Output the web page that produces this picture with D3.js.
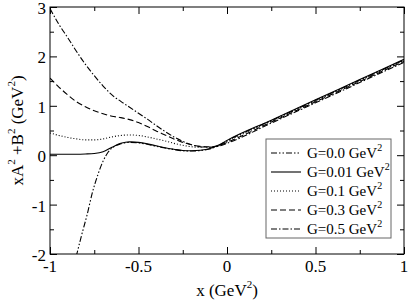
<!DOCTYPE html>
<html>
<head>
<meta charset="utf-8">
<script src="https://cdn.jsdelivr.net/npm/d3@7"></script>
<style>
  body { margin: 0; background: #fff; }
</style>
</head>
<body>
<div id="chart"></div>
<script>
// chart size
var width = 409, height = 303;
var margin = {left: 50, right: 5, top: 7, bottom: 49};
var serif = "'Liberation Serif', 'Times New Roman', Times, 'DejaVu Serif', serif";

// x grid shared by most of the curves
var xGrid = [-1, -0.95, -0.9, -0.85, -0.8, -0.75, -0.7, -0.65, -0.6, -0.55, -0.5, -0.45,
  -0.4, -0.35, -0.3, -0.25, -0.2, -0.15, -0.1, -0.05, 0, 0.25, 0.5, 0.75, 1];

// G = 0.01 GeV^2 (solid)
var g001 = [0.02, 0.02, 0.02, 0.02, 0.025, 0.035, 0.07, 0.16, 0.24, 0.27, 0.26, 0.23,
  0.19, 0.15, 0.12, 0.095, 0.09, 0.1, 0.13, 0.2, 0.30, 0.71, 1.12, 1.53, 1.94];
// G = 0.1 GeV^2 (dotted)
var g01 = [0.45, 0.40, 0.36, 0.33, 0.31, 0.31, 0.33, 0.37, 0.40, 0.41, 0.40, 0.37,
  0.33, 0.29, 0.24, 0.2, 0.17, 0.16, 0.16, 0.19, 0.28, 0.69, 1.10, 1.51, 1.92];
// G = 0.3 GeV^2 (dashed)
var g03 = [1.56, 1.38, 1.22, 1.08, 0.98, 0.9, 0.84, 0.79, 0.76, 0.72, 0.66, 0.58,
  0.49, 0.41, 0.33, 0.26, 0.21, 0.18, 0.17, 0.19, 0.26, 0.67, 1.08, 1.49, 1.90];
// G = 0.5 GeV^2 (dash-dot)
var g05 = [2.97, 2.65, 2.38, 2.1, 1.84, 1.61, 1.4, 1.22, 1.09, 0.97, 0.85, 0.73,
  0.6, 0.48, 0.37, 0.28, 0.21, 0.17, 0.16, 0.18, 0.24, 0.65, 1.06, 1.47, 1.88];

// G = 0.0 GeV^2 (dash-dot-dot) has its own x grid, it comes up from below
var xG0 = [-0.852, -0.82, -0.79, -0.76, -0.73, -0.7, -0.67, -0.64, -0.6, -0.55, -0.5, -0.45,
  -0.4, -0.35, -0.3, -0.25, -0.2, -0.15, -0.1, -0.05, 0, 0.25, 0.5, 0.75, 1];
var g00 = [-2.05, -1.6, -1.2, -0.75, -0.4, -0.12, 0.07, 0.17, 0.23, 0.26, 0.25, 0.22,
  0.18, 0.145, 0.115, 0.09, 0.085, 0.095, 0.125, 0.19, 0.29, 0.70, 1.11, 1.52, 1.93];

var legendLabels = ["G=0.0 GeV", "G=0.01 GeV", "G=0.1 GeV", "G=0.3 GeV", "G=0.5 GeV"];
var xTicks = [-1, -0.5, 0, 0.5, 1];
var xMinor = [-0.75, -0.25, 0.25, 0.75];
var yTicks = [-2, -1, 0, 1, 2, 3];
var yMinor = [-1.5, -0.5, 0.5, 1.5, 2.5];

var series = [
  {x: xG0, y: g00, dash: "6,2,1.5,2,1.5,2"},
  {x: xGrid, y: g001, dash: null},
  {x: xGrid, y: g01, dash: "1,2"},
  {x: xGrid, y: g03, dash: "6,3"},
  {x: xGrid, y: g05, dash: "6,2,1.5,2"}
];

var svg = d3.select("#chart").append("svg")
  .attr("width", width)
  .attr("height", height)
  .attr("font-family", serif)
  .style("font-family", serif);

var x = d3.scaleLinear().domain([-1, 1]).range([margin.left, width - margin.right]);
var y = d3.scaleLinear().domain([-2, 3]).range([height - margin.bottom, margin.top]);

svg.append("clipPath").attr("id", "plot-clip")
  .append("rect")
  .attr("x", x(-1)).attr("y", y(3))
  .attr("width", x(1) - x(-1)).attr("height", y(-2) - y(3));

// ticks, all pointing inwards on the four sides
function tickAxis(axisFn, scale, values, size, tx, ty) {
  svg.append("g")
    .attr("transform", "translate(" + tx + "," + ty + ")")
    .call(axisFn(scale).tickValues(values).tickSize(size).tickFormat(""))
    .call(function(g) { g.select(".domain").remove(); });
}
tickAxis(d3.axisTop, x, xTicks, 7, 0, y(-2));
tickAxis(d3.axisTop, x, xMinor, 4, 0, y(-2));
tickAxis(d3.axisBottom, x, xTicks, 7, 0, y(3));
tickAxis(d3.axisBottom, x, xMinor, 4, 0, y(3));
tickAxis(d3.axisRight, y, yTicks, 7, x(-1), 0);
tickAxis(d3.axisRight, y, yMinor, 4, x(-1), 0);
tickAxis(d3.axisLeft, y, yTicks, 7, x(1), 0);
tickAxis(d3.axisLeft, y, yMinor, 4, x(1), 0);
svg.selectAll(".tick line").attr("stroke", "#000");

// tick labels
svg.append("g").selectAll("text")
  .data(xTicks)
  .enter().append("text")
  .attr("x", function(d) { return x(d); })
  .attr("y", y(-2) + 18)
  .attr("text-anchor", "middle")
  .style("font-size", "17px")
  .text(function(d) { return d < 0 ? "-" + Math.abs(d) : d; });

svg.append("g").selectAll("text")
  .data(yTicks)
  .enter().append("text")
  .attr("x", x(-1) - 4)
  .attr("y", function(d) { return y(d) + 7; })
  .attr("text-anchor", "end")
  .style("font-size", "17px")
  .text(function(d) { return d < 0 ? "-" + Math.abs(d) : d; });

// curves
var line = d3.line()
  .x(function(d) { return x(d[0]); })
  .y(function(d) { return y(d[1]); })
  .curve(d3.curveMonotoneX);

svg.append("g")
  .attr("clip-path", "url(#plot-clip)")
  .selectAll("path")
  .data(series)
  .enter().append("path")
  .attr("d", function(s) { return line(d3.zip(s.x, s.y)); })
  .attr("fill", "none")
  .attr("stroke", "#000")
  .attr("stroke-width", 1.1)
  .attr("stroke-dasharray", function(s) { return s.dash; });

// frame
svg.append("rect")
  .attr("x", x(-1)).attr("y", y(3))
  .attr("width", x(1) - x(-1)).attr("height", y(-2) - y(3))
  .attr("fill", "none")
  .attr("stroke", "#000")
  .attr("stroke-width", 1);

// legend
var legend = svg.append("g").attr("transform", "translate(266,139)");
legend.append("rect")
  .attr("width", 125).attr("height", 99)
  .attr("fill", "#fff")
  .attr("stroke", "#666");

var items = legend.selectAll(".item")
  .data(series)
  .enter().append("g")
  .attr("class", "item")
  .attr("transform", function(d, i) { return "translate(0," + (14 + i * 19) + ")"; });

items.append("line")
  .attr("x1", 5).attr("x2", 35)
  .attr("stroke", "#000")
  .attr("stroke-width", 1.1)
  .attr("stroke-dasharray", function(s) { return s.dash; });

var itemText = items.append("text")
  .attr("x", 41)
  .attr("y", 5)
  .style("font-size", "15px")
  .text(function(d, i) { return legendLabels[i]; });
itemText.append("tspan")
  .attr("dy", -7)
  .style("font-size", "10px")
  .text("2");

// axis titles
var xTitle = svg.append("text")
  .attr("x", x(0))
  .attr("y", 296)
  .attr("text-anchor", "middle")
  .style("font-size", "17px")
  .text("x (GeV");
xTitle.append("tspan").attr("dy", -8).style("font-size", "11px").text("2");
xTitle.append("tspan").attr("dy", 8).text(")");

var yTitle = svg.append("text")
  .attr("transform", "translate(23," + y(0.5) + ") rotate(-90)")
  .attr("text-anchor", "middle")
  .style("font-size", "17px")
  .text("xA");
yTitle.append("tspan").attr("dy", -8).style("font-size", "11px").text("2");
yTitle.append("tspan").attr("dy", 8).text(" +B");
yTitle.append("tspan").attr("dy", -8).style("font-size", "11px").text("2");
yTitle.append("tspan").attr("dy", 8).text(" (GeV");
yTitle.append("tspan").attr("dy", -8).style("font-size", "11px").text("2");
yTitle.append("tspan").attr("dy", 8).text(")");
</script>
</body>
</html>
